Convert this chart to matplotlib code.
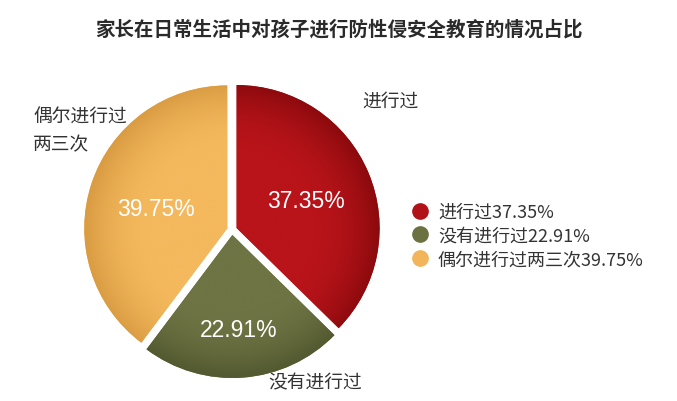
import numpy as np
import matplotlib
matplotlib.use('Agg')
import matplotlib.pyplot as plt
from matplotlib.colors import LinearSegmentedColormap
from matplotlib.lines import Line2D

plt.rcParams['font.family'] = ['Noto Sans CJK SC', 'DejaVu Sans']

title = '家长在日常生活中对孩子进行防性侵安全教育的情况占比'
categories = ['进行过', '没有进行过', '偶尔进行过两三次']
values = [37.35, 22.91, 39.75]
outer_labels = ['进行过', '没有进行过', '偶尔进行过\n两三次']
base_colors = ['#b01217', '#6b7140', '#f2b55a']
inner_colors = ['#b8141a', '#6e7443', '#f4b85d']
edge_colors = ['#8c0a0d', '#535930', '#d99c42']

W, H = 677, 402
fig = plt.figure(figsize=(W / 100, H / 100), dpi=100)
ax = fig.add_axes([0, 0, 1, 1])

cx, cy, R = 232, H - 231, 143
wedges, _, autotexts = ax.pie(
    values, colors=base_colors, startangle=90, counterclock=False,
    explode=[5] * 3, center=(cx, cy), radius=R, frame=True,
    autopct='%.2f%%', pctdistance=0.55,
    textprops=dict(color='white', fontsize=16.5, family=['Liberation Sans', 'DejaVu Sans']),
    wedgeprops=dict(linewidth=0))

# subtle radial shading toward the rim
n = 400
ext = [cx - R - 15, cx + R + 15, cy - R - 15, cy + R + 15]
xs = np.linspace(ext[0], ext[1], n)
ys = np.linspace(ext[2], ext[3], n)
X, Y = np.meshgrid(xs, ys)
r = np.sqrt((X - cx) ** 2 + (Y - cy) ** 2) / R
grad = np.clip((r - 0.55) / 0.48, 0, 1) ** 2
for w, c0, c1 in zip(wedges, inner_colors, edge_colors):
    cm = LinearSegmentedColormap.from_list('g', [c0, c1])
    im = ax.imshow(grad, extent=ext, origin='lower', cmap=cm, vmin=0, vmax=1,
                   zorder=w.get_zorder() + 0.1, interpolation='bilinear')
    im.set_clip_path(w)
for t in autotexts:
    t.set_zorder(5)

# nudge labels toward where the reference places them
x0, y0 = autotexts[0].get_position()
autotexts[0].set_position((x0 - 3, y0 - 3))
x0, y0 = autotexts[1].get_position()
autotexts[1].set_position((x0, y0 - 16))
x0, y0 = autotexts[2].get_position()
autotexts[2].set_position((x0 + 3, y0 - 5))

lab_kw = dict(fontsize=13.5, color='#333333', va='center', ha='left')
ax.text(362, H - 101, outer_labels[0], **lab_kw)
ax.text(268, H - 383, outer_labels[1], **lab_kw)
ax.text(33, H - 131, outer_labels[2], linespacing=1.45, **lab_kw)

ax.text(W / 2, H - 29, title, fontsize=14, fontweight='bold', color='#2a2a2a',
        ha='center', va='center')

handles = [Line2D([], [], marker='o', linestyle='none', markersize=11,
                  markerfacecolor=c, markeredgecolor=c) for c in base_colors]
labels = [f'{c}{v:.2f}%' for c, v in zip(categories, values)]
leg = ax.legend(handles, labels, loc='upper left', bbox_to_anchor=(400 / W, 1 - 195 / H),
                frameon=False, fontsize=13, handletextpad=0.4, labelspacing=0.32,
                handlelength=1.2, borderpad=0)
for t in leg.get_texts():
    t.set_color('#333333')

ax.set_xlim(0, W)
ax.set_ylim(0, H)
ax.set_aspect('equal')
ax.axis('off')
fig.savefig('out.png', dpi=100, facecolor='white')
